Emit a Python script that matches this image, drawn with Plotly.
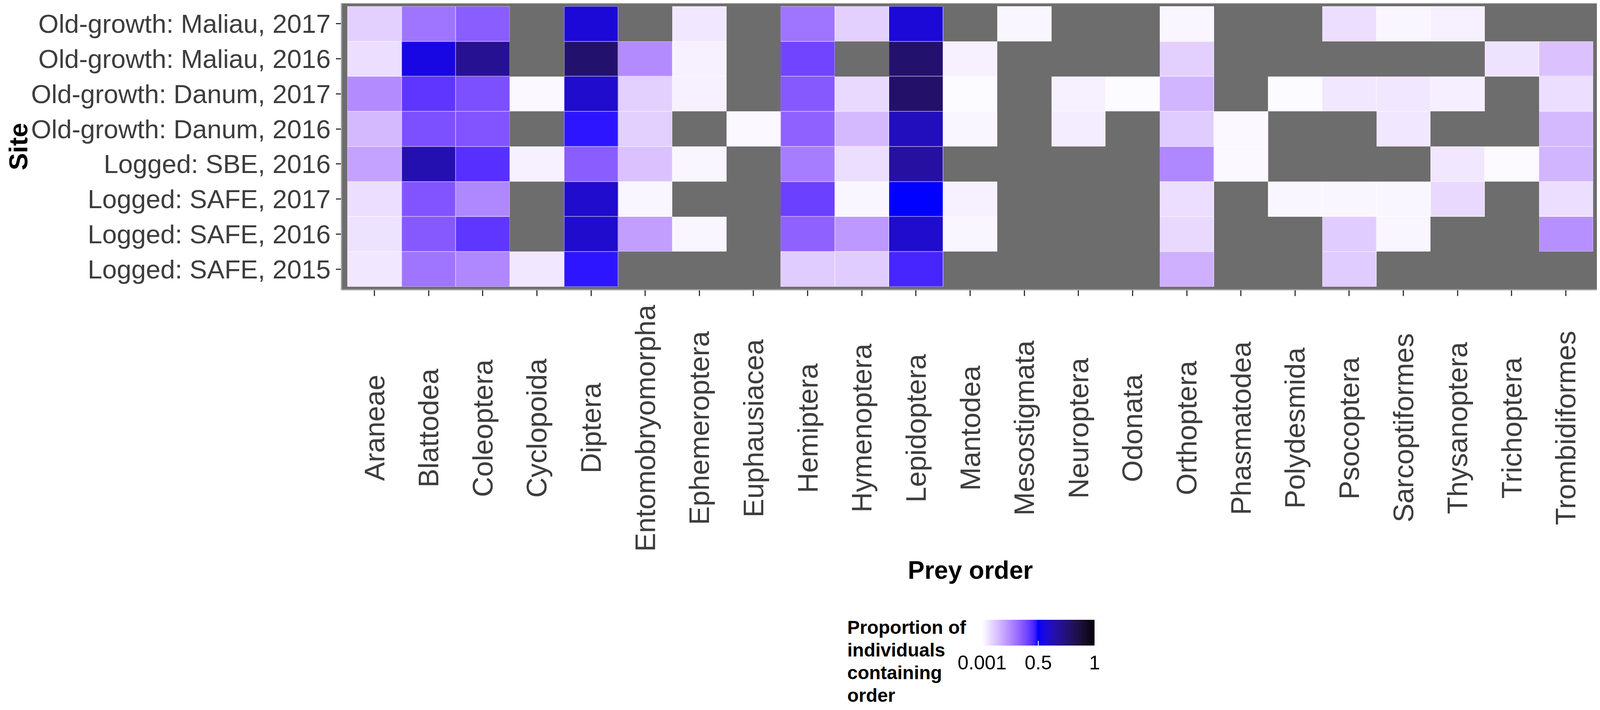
import plotly.graph_objects as go

# prey orders along the x axis
prey_orders = ["Araneae", "Blattodea", "Coleoptera", "Cyclopoida", "Diptera",
               "Entomobryomorpha", "Ephemeroptera", "Euphausiacea", "Hemiptera",
               "Hymenoptera", "Lepidoptera", "Mantodea", "Mesostigmata", "Neuroptera",
               "Odonata", "Orthoptera", "Phasmatodea", "Polydesmida", "Psocoptera",
               "Sarcoptiformes", "Thysanoptera", "Trichoptera", "Trombidiformes"]

# sites, bottom to top
sites = ["Logged: SAFE, 2015", "Logged: SAFE, 2016", "Logged: SAFE, 2017",
         "Logged: SBE, 2016", "Old-growth: Danum, 2016", "Old-growth: Danum, 2017",
         "Old-growth: Maliau, 2016", "Old-growth: Maliau, 2017"]

N = None  # order not found at that site

# proportion of individuals containing each order (one list per site)
safe_2015 = [0.05, 0.30, 0.26, 0.05, 0.48, N, N, N, 0.11, 0.11, 0.46, N, N, N, N,
             0.17, N, N, 0.11, N, N, N, N]
safe_2016 = [0.06, 0.36, 0.43, N, 0.59, 0.21, 0.02, N, 0.34, 0.22, 0.59, 0.02, N, N, N,
             0.08, N, N, 0.11, 0.02, N, N, 0.24]
safe_2017 = [0.07, 0.37, 0.26, N, 0.59, 0.02, N, N, 0.41, 0.02, 0.50, 0.03, N, N, N,
             0.07, N, 0.02, 0.02, 0.02, 0.08, N, 0.07]
sbe_2016 = [0.20, 0.64, 0.44, 0.03, 0.35, 0.13, 0.02, N, 0.28, 0.07, 0.67, N, N, N, N,
            0.26, 0.015, N, N, N, 0.05, 0.012, 0.16]
danum_2016 = [0.15, 0.38, 0.37, N, 0.48, 0.10, N, 0.015, 0.34, 0.15, 0.62, 0.02, N, 0.04, N,
              0.11, 0.015, N, N, 0.05, N, N, 0.15]
danum_2017 = [0.25, 0.43, 0.38, 0.015, 0.59, 0.10, 0.03, N, 0.36, 0.08, 0.78, 0.01, N, 0.03, 0.01,
              0.16, N, 0.01, 0.05, 0.05, 0.035, N, 0.07]
maliau_2016 = [0.07, 0.55, 0.70, N, 0.77, 0.25, 0.03, N, 0.40, N, 0.77, 0.03, N, N, N,
               0.10, N, N, N, N, N, 0.06, 0.13]
maliau_2017 = [0.10, 0.30, 0.35, N, 0.57, N, 0.05, N, 0.30, 0.10, 0.57, N, 0.02, N, N,
               0.02, N, N, 0.07, 0.02, 0.03, N, N]

z = [safe_2015, safe_2016, safe_2017, sbe_2016, danum_2016, danum_2017, maliau_2016, maliau_2017]

cbar_ticks = [0.001, 0.5, 1]
cbar_labels = ["0.001", "0.5", "1"]
legend_lines = ["Proportion of", "individuals", "containing", "order"]


# white -> blue -> black, interpolated in Lab like ggplot's gradient2
def srgb_to_lab(c):
    rgb = []
    for v in c:
        v = v / 255
        rgb.append(v / 12.92 if v <= 0.04045 else ((v + 0.055) / 1.055) ** 2.4)
    r, g, b = rgb
    x = (0.4124 * r + 0.3576 * g + 0.1805 * b) / 0.95047
    y = 0.2126 * r + 0.7152 * g + 0.0722 * b
    zz = (0.0193 * r + 0.1192 * g + 0.9505 * b) / 1.08883
    f = lambda t: t ** (1 / 3) if t > 0.008856 else 7.787 * t + 16 / 116
    fx, fy, fz = f(x), f(y), f(zz)
    return (116 * fy - 16, 500 * (fx - fy), 200 * (fy - fz))


def lab_to_hex(lab):
    L, a, b = lab
    fy = (L + 16) / 116
    fx = fy + a / 500
    fz = fy - b / 200
    finv = lambda t: t ** 3 if t ** 3 > 0.008856 else (t - 16 / 116) / 7.787
    x, y, zz = 0.95047 * finv(fx), finv(fy), 1.08883 * finv(fz)
    r = 3.2406 * x - 1.5372 * y - 0.4986 * zz
    g = -0.9689 * x + 1.8758 * y + 0.0415 * zz
    bb = 0.0557 * x - 0.2040 * y + 1.0570 * zz
    out = []
    for v in (r, g, bb):
        v = min(max(v, 0), 1)
        v = 12.92 * v if v <= 0.0031308 else 1.055 * v ** (1 / 2.4) - 0.055
        out.append(int(round(v * 255)))
    return "#%02x%02x%02x" % tuple(out)


white, blue, black = srgb_to_lab((255, 255, 255)), srgb_to_lab((0, 0, 255)), srgb_to_lab((0, 0, 0))
zmin, zmax = 0.001, 1.0
colorscale = []
for i in range(41):
    v = zmin + (zmax - zmin) * i / 40
    if v <= 0.5:
        t, c0, c1 = v / 0.5, white, blue
    else:
        t, c0, c1 = (v - 0.5) / 0.5, blue, black
    lab = tuple(c0[k] + (c1[k] - c0[k]) * t for k in range(3))
    colorscale.append([i / 40, lab_to_hex(lab)])

# the page is shown in a 4096x1818 viewport, body margin 8px;
# layout below is measured on the 4550x1818 reference and mapped across
W, H = 4088, 1810
SX = 4096 / 4550


def FX(p):
    return p * SX - 8


def FY(p):
    return p - 4


ML = FX(971)
MR = W - FX(4547)
MT = FY(4)
MB = H - FY(738)
PW, PH = W - ML - MR, H - MT - MB


def px_x(p):
    return (FX(p) - ML) / PW


def px_y(p):
    return (FY(738) - FY(p)) / PH


FONT = "Liberation Sans, Arial, sans-serif"
TXT = "#3d3d3d"

fig = go.Figure()
fig.add_trace(go.Heatmap(z=z, x=prey_orders, y=sites, colorscale=colorscale, zmin=zmin, zmax=zmax,
                         showscale=False, hoverinfo="skip"))
# faint white tile borders
fig.add_trace(go.Heatmap(z=[[1 if v is not None else None for v in row] for row in z],
                         x=prey_orders, y=sites, colorscale=[[0, "white"], [1, "white"]],
                         showscale=False, opacity=0.55, hoverinfo="skip"))
fig.add_trace(go.Heatmap(
    z=z, x=prey_orders, y=sites, colorscale=colorscale, zmin=zmin, zmax=zmax,
    xgap=2, ygap=2,
    colorbar=dict(orientation="h", x=px_x(2953), xanchor="center", y=px_y(1583), yanchor="top",
                  len=320 * SX, lenmode="pixels", thickness=66, thicknessmode="pixels",
                  tickvals=cbar_ticks, ticktext=cbar_labels, ticks="inside", ticklen=12,
                  tickcolor="white", tickwidth=2,
                  tickfont=dict(family=FONT, size=50, color="black"),
                  outlinewidth=0, xpad=0, ypad=0),
))

annotations = []
for name in prey_orders:
    annotations.append(dict(x=name, xref="x", y=px_y(1092), yref="paper", text=name,
                            textangle=-90, showarrow=False, xanchor="center", yanchor="middle",
                            font=dict(family=FONT, size=72, color=TXT)))
annotations.append(dict(x=0.5, xref="paper", y=px_y(1456), yref="paper", text="<b>Prey order</b>",
                        showarrow=False, xanchor="center", yanchor="middle",
                        font=dict(family=FONT, size=64, color="black")))
annotations.append(dict(x=(0 - ML) / PW, xref="paper", y=0.5, yref="paper", text="<b>Site</b>",
                        textangle=-90, showarrow=False, xanchor="left", yanchor="middle",
                        font=dict(family=FONT, size=66, color="black")))
for i, line in enumerate(legend_lines):
    annotations.append(dict(x=px_x(2407), xref="paper", y=px_y(1602 + 58 * i), yref="paper",
                            text="<b>" + line + "</b>", showarrow=False, xanchor="left",
                            yanchor="middle", font=dict(family=FONT, size=48, color="black")))

fig.update_layout(
    width=W, height=H,
    margin=dict(l=ML, r=MR, t=MT, b=MB, autoexpand=False),
    plot_bgcolor="#6d6d6d", paper_bgcolor="white",
    font=dict(family=FONT, color=TXT),
    annotations=annotations,
    shapes=[dict(type="rect", xref="paper", yref="paper", x0=0, x1=1, y0=0, y1=1,
                 line=dict(color="#a8a8a8", width=3))],
)
fig.update_xaxes(type="category", categoryorder="array", categoryarray=prey_orders,
                 range=[-0.61, 22.61], showticklabels=False, ticks="outside", ticklen=15,
                 tickwidth=3, tickcolor="#333333", showgrid=False, zeroline=False)
fig.update_yaxes(type="category", categoryorder="array", categoryarray=sites,
                 range=[-0.59, 7.59], ticks="outside", ticklen=13, tickwidth=3,
                 tickcolor="#333333", showgrid=False, zeroline=False,
                 tickfont=dict(family=FONT, size=67, color=TXT))

fig.write_html("out.html")
